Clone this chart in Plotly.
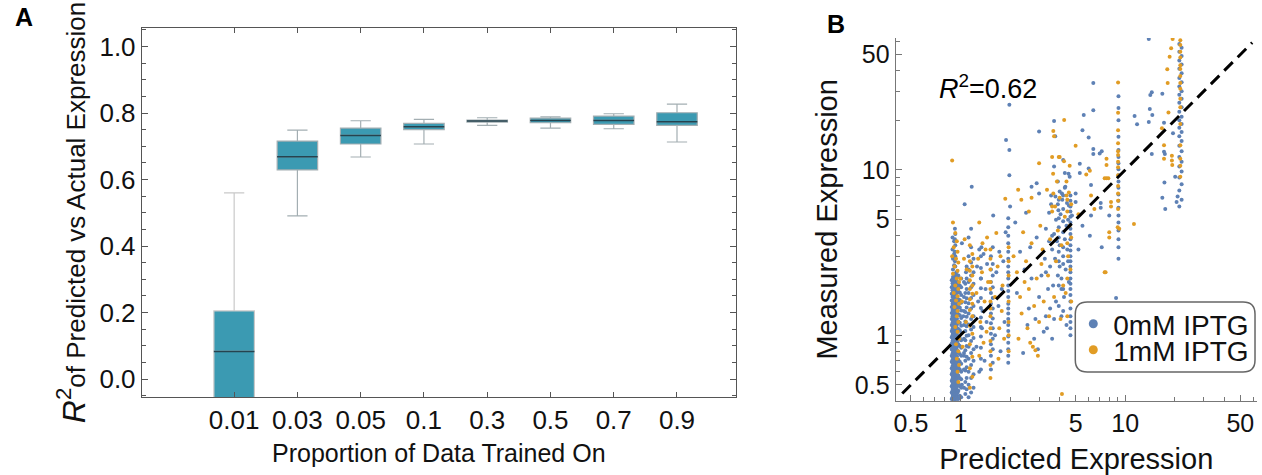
import plotly.graph_objects as go

W, H = 1262, 475
FONT = "Liberation Sans, Arial, sans-serif"

# ---------------- Panel A data ----------------
fractions = ["0.01", "0.03", "0.05", "0.1", "0.3", "0.5", "0.7", "0.9"]
r2_lower = [-0.45, 0.491, 0.668, 0.707, 0.763, 0.755, 0.753, 0.713]
r2_q1 = [-0.20, 0.629, 0.707, 0.750, 0.773, 0.771, 0.766, 0.763]
r2_median = [0.083, 0.669, 0.733, 0.759, 0.776, 0.778, 0.778, 0.774]
r2_q3 = [0.205, 0.716, 0.755, 0.769, 0.779, 0.785, 0.791, 0.801]
r2_upper = [0.560, 0.749, 0.777, 0.781, 0.786, 0.789, 0.798, 0.827]

# ---------------- Panel B data (predicted, measured) ----------------
blue_stacks = [
    (0.885, [0.41, 0.45, 0.49, 0.53, 0.58, 0.63, 0.69, 0.75, 0.82, 0.89, 0.97, 1.06, 1.15, 1.25, 1.36, 1.48, 1.62, 1.78, 1.95, 2.15]),
    (0.895, [0.40, 0.42, 0.44, 0.46, 0.48, 0.50, 0.52, 0.545, 0.57, 0.595, 0.62, 0.65, 0.68, 0.71, 0.74, 0.775, 0.81, 0.845, 0.88, 0.92, 0.96, 1.0, 1.045, 1.09, 1.14, 1.19, 1.24, 1.3, 1.36, 1.42, 1.48, 1.55, 1.62, 1.7, 1.78, 1.87, 1.96, 2.06, 2.17, 3.3, 3.9]),
    (0.90, [0.40, 0.43, 0.47, 0.51, 0.55, 0.60, 0.65, 0.70, 0.76, 0.82, 0.88, 0.95, 1.02, 1.10, 1.19, 1.28, 1.38, 1.49, 1.61, 1.74, 1.88, 2.05, 2.25, 2.5, 2.9]),
    (0.915, [0.42, 0.46, 0.50, 0.54, 0.58, 0.62, 0.67, 0.72, 0.78, 0.84, 0.91, 0.98, 1.05, 1.13, 1.22, 1.31, 1.41, 1.52, 1.64, 1.77, 1.92, 2.1, 2.35, 2.65, 3.1, 3.7]),
    (0.925, [0.41, 0.43, 0.45, 0.47, 0.49, 0.51, 0.535, 0.56, 0.585, 0.61, 0.635, 0.665, 0.695, 0.725, 0.76, 0.79, 0.83, 0.865, 0.9, 0.94, 0.98, 1.02, 1.07, 1.115, 1.165, 1.215, 1.27, 1.33, 1.39, 1.45, 1.52, 1.59, 1.66, 1.74, 1.82, 1.91, 2.0, 2.11, 2.22, 2.35, 2.8, 3.2, 3.8, 4.4]),
    (0.93, [0.41, 0.44, 0.48, 0.52, 0.56, 0.61, 0.66, 0.71, 0.77, 0.83, 0.90, 0.97, 1.04, 1.12, 1.20, 1.29, 1.39, 1.50, 1.62, 1.75, 1.90, 2.08, 2.3, 2.6, 3.0, 3.5, 4.1]),
    (0.945, [0.43, 0.47, 0.51, 0.56, 0.62, 0.68, 0.74, 0.81, 0.88, 0.96, 1.05, 1.15, 1.26, 1.38, 1.52, 1.68, 1.85, 2.05, 2.4]),
    (0.95, [0.40, 0.42, 0.445, 0.465, 0.49, 0.515, 0.54, 0.565, 0.59, 0.62, 0.65, 0.68, 0.71, 0.745, 0.78, 0.815, 0.85, 0.89, 0.93, 0.97, 1.01, 1.06, 1.11, 1.16, 1.21, 1.26, 1.32, 1.38, 1.44, 1.51, 1.58, 1.65, 1.73, 1.81, 1.9, 2.0, 2.12, 2.25]),
    (0.96, [0.45, 0.52, 0.60, 0.70, 0.80, 0.92, 1.05, 1.20, 1.40, 1.60, 1.90]),
    (0.97, [0.41, 0.46, 0.51, 0.57, 0.64, 0.71, 0.79, 0.88, 0.98, 1.09, 1.21, 1.34, 1.49, 1.65, 1.83, 2.03, 2.3]),
    (0.99, [0.43, 0.49, 0.55, 0.62, 0.69, 0.77, 0.86, 0.96, 1.07, 1.19, 1.32, 1.47, 1.63, 1.81, 2.0]),
    (1.01, [0.42, 0.48, 0.54, 0.60, 0.67, 0.75, 0.84, 0.93, 1.03, 1.14, 1.27, 1.41, 1.57, 1.75, 1.95, 2.2]),
    (1.05, [0.48, 0.62, 0.78, 0.95, 1.15, 1.40, 1.70, 2.10]),
    (1.07, [0.44, 0.52, 0.61, 0.70, 0.81, 0.93, 1.06, 1.21, 1.38, 1.58, 1.8, 2.05]),
    (1.09, [0.47, 0.55, 0.64, 0.74, 0.86, 0.99, 1.13, 1.29, 1.47, 1.67, 1.9, 2.2, 2.6]),
    (1.12, [0.42, 0.50, 0.60, 0.72, 0.85, 1.0, 1.16, 1.35, 1.56, 1.8, 2.1, 2.5, 3.0, 3.9]),
    (1.16, [0.45, 0.55, 0.66, 0.78, 0.92, 1.08, 1.25, 1.45, 1.68, 1.95, 2.3, 2.75, 3.4, 4.4]),
    (1.20, [0.48, 0.58, 0.70, 0.82, 0.96, 1.12, 1.30, 1.50, 1.75, 2.05, 2.4, 2.9]),
    (1.33, [0.62, 0.72, 0.84, 0.98, 1.12, 1.28, 1.46, 1.68, 1.92, 2.2, 2.55, 3.0]),
    (1.53, [0.62, 0.75, 0.88, 1.02, 1.18, 1.35, 1.55, 1.80, 2.1, 2.5, 3.0]),
    (1.57, [0.68, 0.82, 0.95, 1.10, 1.26, 1.45, 1.68, 1.95, 2.3, 2.7, 3.4]),
    (1.95, [0.68, 0.75, 0.82, 0.90, 0.98, 1.06, 1.15, 1.25, 1.35, 1.45, 1.55, 1.70, 1.85, 2.0, 2.2, 2.4, 2.6, 2.9, 3.2, 3.6, 4.0, 4.5, 5.1]),
    (3.95, [1.5, 2.0, 2.8, 3.2, 3.9, 5.1, 6.6]),
    (4.2, [1.4, 1.9, 2.7, 3.4, 4.9, 5.8, 7.0]),
    (4.65, [1.0, 1.1, 1.2, 1.3, 1.45, 1.6, 1.75, 1.9, 2.05, 2.2, 2.4, 2.6, 2.8, 3.0, 3.25, 3.5, 3.8, 4.1, 4.4, 4.8, 5.2, 5.6, 6.0, 6.5, 7.0]),
    (9.1, [2.9, 3.4, 3.8, 4.3, 4.8, 5.3, 5.9, 6.5, 7.1, 7.8, 8.5, 9.3, 10.1, 11.0, 12.0, 13.2, 15.9, 20.0, 23.7, 27.9]),
    (21.3, [6.0, 7.5, 9.0, 10.5, 12.0, 14.0, 16.0, 18.0, 20.0, 22.5, 25.5, 28.5, 32.0, 36.0, 41.0, 46.0, 52.0, 58.0]),
    (22.0, [6.6, 8.2, 9.8, 11.2, 13.0, 15.0, 17.0, 19.0, 21.0, 24.0, 27.0, 30.0, 34.0, 38.5, 43.5, 49.0, 55.0]),
]
blue_points = [
    (1.02, 0.50), (1.05, 0.75), (1.04, 1.30), (1.06, 6.2), (1.17, 7.9), (1.08, 2.4), (1.02, 3.6),
    (1.25, 0.85), (1.28, 1.6), (1.30, 3.3), (1.33, 2.2), (1.35, 1.1), (1.38, 3.1), (1.40, 0.70),
    (1.42, 1.9), (1.45, 2.7), (1.30, 0.60), (1.26, 2.6), (1.36, 1.4), (1.44, 1.2), (1.34, 3.4),
    (1.62, 1.0), (1.65, 2.4), (1.70, 1.5), (1.72, 3.2), (1.75, 0.80), (1.78, 1.9), (1.82, 2.8),
    (1.85, 1.2), (1.88, 4.2), (1.58, 5.3), (1.89, 15.2), (1.98, 13.2), (1.98, 9.3), (1.98, 24.8), (2.0, 6.0),
    (2.15, 4.8), (2.3, 3.2), (2.45, 2.5), (2.6, 1.45), (2.7, 2.2), (2.8, 0.95), (2.9, 3.9), (3.0, 1.7),
    (3.1, 2.3), (3.2, 1.05), (2.2, 1.8), (2.55, 1.15), (2.95, 0.82), (3.25, 2.9), (2.4, 0.78), (2.65, 3.4),
    (3.3, 1.3), (2.85, 1.25), (2.7, 7.9), (2.9, 8.3), (3.0, 7.2), (2.5, 5.5),
    (3.4, 1.9), (3.5, 2.6), (3.6, 3.3), (3.7, 4.1), (3.8, 5.0), (3.9, 6.2), (4.0, 7.4), (4.1, 2.2), (4.2, 3.0),
    (4.3, 3.8), (4.4, 4.6), (3.45, 5.5), (3.55, 7.0), (3.65, 2.0), (3.75, 2.9), (3.85, 3.7), (3.95, 4.5),
    (4.05, 5.4), (4.15, 6.6), (4.25, 1.7), (4.35, 2.5), (4.45, 3.3), (4.5, 5.0), (3.5, 1.45), (3.8, 1.6),
    (4.1, 1.3), (4.4, 1.15), (3.35, 1.1), (3.6, 0.95), (3.9, 8.5), (4.3, 9.6), (4.2, 11.5), (3.7, 10.5),
    (3.45, 3.7), (4.0, 2.6), (4.3, 7.8), (3.3, 4.4), (3.55, 6.2), (4.55, 6.1), (4.55, 2.1), (3.3, 2.4),
    (4.53, 9.5), (4.6, 9.1), (4.33, 7.9), (4.13, 7.2), (3.77, 6.9), (4.43, 6.3), (3.93, 5.7), (4.75, 5.3),
    (3.7, 19.8), (3.0, 17.1), (3.76, 16.0), (4.0, 3.5), (3.6, 4.0), (4.2, 4.2), (4.5, 2.8), (3.9, 2.3),
    (4.1, 1.9), (3.7, 1.25),
    (5.0, 7.2), (5.0, 6.4), (5.3, 10.9), (5.3, 9.6), (5.5, 17.4), (5.6, 21.5), (6.0, 15.7), (6.0, 10.2),
    (6.2, 8.1), (6.4, 33.6), (6.4, 23.0), (6.4, 13.4), (6.4, 12.5), (7.2, 13.0), (7.0, 12.6), (7.1, 6.3),
    (7.1, 5.9), (6.1, 4.0), (7.2, 3.4), (8.8, 1.68), (6.2, 5.3), (8.0, 5.3), (5.5, 4.6), (5.2, 3.3),
    (11.4, 21.2), (11.8, 18.9), (13.9, 62.0), (14.2, 28.4), (14.5, 29.5), (14.1, 23.4), (14.6, 21.5),
    (13.9, 19.5), (16.8, 28.9), (14.5, 12.5), (17.2, 19.3), (17.2, 12.9), (17.4, 12.5), (17.3, 8.4),
    (16.8, 6.8), (17.5, 5.8), (20.1, 9.1), (19.5, 16.7), (20.8, 6.9), (20.5, 6.4),
]

orange_stacks = [
    (1.14, [0.48, 0.63, 0.88, 1.14, 1.42, 1.65, 1.9, 2.15, 2.45, 2.8, 3.5]),
    (1.18, [0.56, 0.74, 1.02, 1.3, 1.55, 1.78, 2.0, 2.3, 2.6, 3.1]),
    (1.52, [0.55, 0.66, 0.8, 0.92, 1.1, 1.3, 1.45, 1.6, 1.9, 2.1, 2.5, 2.9, 3.3]),
    (1.96, [0.8, 1.0, 1.2, 1.6, 2.3, 2.8, 3.4]),
    (4.45, [1.3, 2.2, 3.6, 5.6, 6.6]),
    (9.05, [5.8, 6.5, 7.2, 8.0, 9.3, 10.4, 11.2, 12.3, 13.0, 14.5, 17.4, 22.2, 33.8]),
    (21.6, [9.1, 10.6, 11.7, 14.1, 19.0, 24.0, 27.0, 31.0, 33.6, 37.0, 40.9, 43.0, 48.0, 52.0, 57.0, 61.0]),
]
orange_points = [
    (0.90, 4.8), (0.93, 4.15), (0.95, 3.7), (0.91, 3.4), (0.96, 3.2), (0.89, 3.0), (0.94, 2.9), (0.97, 2.75),
    (0.92, 2.6), (0.96, 2.45), (0.90, 2.35), (0.95, 2.2), (0.98, 2.1), (0.93, 2.0), (0.97, 1.9), (0.91, 1.8),
    (0.96, 1.72), (0.94, 1.62), (0.98, 1.55), (0.92, 1.48), (0.96, 1.4), (0.95, 1.3), (0.97, 1.2), (0.93, 1.12),
    (0.96, 1.05), (0.98, 0.95), (0.94, 0.88), (0.97, 0.80), (0.95, 0.72), (0.98, 0.66), (0.96, 0.60), (0.97, 0.52),
    (0.89, 11.4),
    (1.00, 2.2), (1.02, 1.6), (1.05, 2.9), (1.08, 1.2), (1.03, 0.85), (1.06, 3.8), (1.09, 2.5),
    (1.25, 1.8), (1.28, 2.9), (1.30, 4.8), (1.32, 1.2), (1.35, 2.4), (1.38, 0.9), (1.40, 1.6), (1.42, 3.3),
    (1.45, 3.9), (1.47, 2.1), (1.30, 0.75), (1.36, 3.6), (1.44, 1.05),
    (1.62, 1.7), (1.65, 4.15), (1.68, 2.6), (1.72, 1.1), (1.75, 3.0), (1.80, 2.0), (1.84, 0.95), (1.87, 6.7),
    (1.70, 0.72), (1.78, 1.4),
    (2.1, 3.0), (2.2, 2.4), (2.3, 1.7), (2.35, 1.35), (2.5, 2.8), (2.6, 1.9), (2.7, 3.6), (2.8, 1.5), (2.9, 2.2),
    (3.0, 1.2), (3.1, 2.7), (3.2, 1.6), (2.4, 4.2), (2.25, 0.95), (2.75, 0.85), (3.05, 4.6), (2.55, 1.1),
    (2.95, 0.75), (3.15, 3.3), (2.45, 2.1), (2.65, 0.9), (2.85, 0.81), (2.24, 7.6), (2.34, 6.6), (2.7, 6.8),
    (2.6, 5.6), (3.0, 11.0),
    (3.4, 2.3), (3.5, 3.8), (3.6, 5.6), (3.7, 1.7), (3.8, 2.8), (3.9, 4.3), (4.0, 6.8), (4.1, 3.5), (4.2, 2.0),
    (4.3, 5.2), (4.4, 8.5), (4.5, 3.0), (4.6, 4.6), (4.7, 6.2), (4.65, 2.5), (4.7, 3.9), (4.7, 1.6), (3.45, 1.3),
    (3.65, 9.5), (3.95, 12.0), (4.25, 11.3), (3.35, 7.6), (4.05, 1.25), (4.55, 7.3), (3.75, 6.0), (4.35, 1.8),
    (4.6, 10.6), (4.13, 0.44), (3.6, 12.0), (4.0, 12.0), (3.85, 8.5), (3.66, 7.2), (4.4, 7.0), (3.6, 6.0),
    (4.26, 20.1), (3.66, 17.2), (3.7, 16.0), (5.0, 14.0),
    (7.7, 11.7), (7.7, 10.7), (7.5, 8.9), (7.7, 8.9), (7.9, 8.9), (6.1, 9.9), (5.8, 9.4), (6.2, 7.0), (8.2, 6.0),
    (8.2, 6.4), (8.0, 4.2), (8.0, 3.9), (7.5, 2.4), (7.6, 2.4), (9.0, 4.5), (9.2, 4.4), (11.3, 4.7), (5.2, 5.4),
    (6.5, 5.8),
    (16.7, 17.9), (18.3, 22.3), (18.0, 40.7), (18.1, 33.6), (18.6, 48.5), (19.0, 54.5), (19.4, 62.0), (17.2, 14.1),
    (17.2, 11.7), (19.2, 12.2), (19.2, 11.4), (19.3, 10.7),
]

identity_line = [0.443, 59.0]
r2_text = "0.62"
log_ticks = [0.5, 1, 5, 10, 50]
log_minor = [0.4, 0.6, 0.7, 0.8, 0.9, 2, 3, 4, 6, 7, 8, 9, 20, 30, 40, 60]


def expand(stacks, points):
    xs, ys = [], []
    for x, col in stacks:
        for y in col:
            xs.append(x)
            ys.append(y)
    for x, y in points:
        xs.append(x)
        ys.append(y)
    return xs, ys


bx, by = expand(blue_stacks, blue_points)
ox, oy = expand(orange_stacks, orange_points)

BLUE = "#5e81b5"
ORANGE = "#e19c24"
TEAL = "#3b9ab2"

fig = go.Figure()

# Panel A: boxes (0.01 separately with lighter whisker)
for idx, col in [([0], "#c9c9c9"), (list(range(1, 8)), "#a3aeb2")]:
    fig.add_trace(go.Box(
        x=[fractions[i] for i in idx],
        q1=[r2_q1[i] for i in idx], median=[r2_median[i] for i in idx],
        q3=[r2_q3[i] for i in idx], lowerfence=[r2_lower[i] for i in idx],
        upperfence=[r2_upper[i] for i in idx],
        width=0.64, whiskerwidth=0.5, fillcolor=TEAL,
        line=dict(color=col, width=1.2), showlegend=False, hoverinfo="skip",
        xaxis="x", yaxis="y",
    ))
fig.add_trace(go.Scatter(
    x=fractions, y=r2_median, mode="markers", showlegend=False,
    marker=dict(symbol="line-ew", size=29, line=dict(color="#26434f", width=1.5)),
    xaxis="x", yaxis="y", hoverinfo="skip",
))

# Panel B scatter
fig.add_trace(go.Scatter(x=bx, y=by, mode="markers", marker=dict(color=BLUE, size=4),
                         showlegend=False, xaxis="x2", yaxis="y2", name="0mM IPTG"))
fig.add_trace(go.Scatter(x=ox, y=oy, mode="markers", marker=dict(color=ORANGE, size=4),
                         showlegend=False, xaxis="x2", yaxis="y2", name="1mM IPTG"))
fig.add_trace(go.Scatter(x=identity_line, y=identity_line, mode="lines",
                         line=dict(color="black", width=3, dash="12px,7px"),
                         showlegend=False, xaxis="x2", yaxis="y2"))
# legend entries
fig.add_trace(go.Scatter(x=[None], y=[None], mode="markers", name="0mM IPTG",
                         marker=dict(color=BLUE, size=9), xaxis="x2", yaxis="y2", legend="legend"))
fig.add_trace(go.Scatter(x=[None], y=[None], mode="markers", name="1mM IPTG",
                         marker=dict(color=ORANGE, size=9), xaxis="x2", yaxis="y2", legend="legend2"))


def px(x):
    return x / W


def py(y):
    return 1 - y / H


axA = dict(showline=True, linecolor="#555", linewidth=1, mirror="allticks", ticks="inside",
           tickcolor="#555", showgrid=False, zeroline=False,
           tickfont=dict(family=FONT, size=26, color="#111"))

fig.update_layout(
    width=W, height=H, margin=dict(l=0, r=0, t=0, b=0),
    paper_bgcolor="white", plot_bgcolor="white", boxmode="overlay",
    font=dict(family=FONT, color="#111"),
    xaxis=dict(**axA, type="category", range=[-1.46, 7.93], domain=[px(140), px(735)], anchor="y",
               ticklen=5,
               title=dict(text="Proportion of Data Trained On", font=dict(size=25), standoff=10)),
    yaxis=dict(**axA, range=[-0.054, 1.056], domain=[py(397), py(28)], anchor="x",
               dtick=0.2, tick0=0, tickformat=".1f", ticklen=6,
               minor=dict(dtick=0.05, tick0=0, ticks="inside", ticklen=4, tickcolor="#555"),
               title=dict(text="<span style='font-size:32px'><i>R</i><sup>2</sup></span>of Predicted vs Actual Expression",
                          font=dict(size=26), standoff=6)),
    xaxis2=dict(type="log", range=[-0.394, 1.8], domain=[px(895), px(1257)], anchor="y2",
                showline=True, linecolor="#777", linewidth=1, ticks="inside", ticklen=6, tickcolor="#777",
                tickvals=log_ticks, ticktext=[str(v) for v in log_ticks],
                minor=dict(tickvals=log_minor, ticks="inside", ticklen=4, tickcolor="#777"),
                showgrid=False, zeroline=False, tickfont=dict(size=25, color="#111"),
                title=dict(text="Predicted Expression", font=dict(size=29), standoff=12)),
    yaxis2=dict(type="log", range=[-0.397, 1.799], domain=[py(400.7), py(38)], anchor="x2",
                showline=True, linecolor="#777", linewidth=1, ticks="inside", ticklen=6, tickcolor="#777",
                tickvals=log_ticks, ticktext=[str(v) for v in log_ticks],
                minor=dict(tickvals=log_minor, ticks="inside", ticklen=4, tickcolor="#777"),
                showgrid=False, zeroline=False, tickfont=dict(size=25, color="#111"),
                title=dict(text="Measured Expression", font=dict(size=29), standoff=8)),
    legend=dict(x=px(1073), y=py(324), xanchor="left", yanchor="middle", bgcolor="rgba(0,0,0,0)",
                font=dict(size=28, family=FONT, color="#111"), borderwidth=0),
    legend2=dict(x=px(1073), y=py(350), xanchor="left", yanchor="middle", bgcolor="rgba(0,0,0,0)",
                 font=dict(size=28, family=FONT, color="#111"), borderwidth=0),
    annotations=[
        dict(text="<b>A</b>", x=px(11), y=py(1), xref="paper", yref="paper", xanchor="left", yanchor="top",
             showarrow=False, font=dict(size=25, family=FONT, color="black")),
        dict(text="<b>B</b>", x=px(824), y=py(8), xref="paper", yref="paper", xanchor="left", yanchor="top",
             showarrow=False, font=dict(size=25, family=FONT, color="black")),
        dict(text="<i>R</i><sup>2</sup>=" + r2_text, x=px(988), y=py(87), xref="paper", yref="paper",
             xanchor="center", yanchor="middle", showarrow=False, font=dict(size=27, family=FONT, color="black")),
    ],
)

# rounded legend frame
x0, x1, y0, y1 = px(1075), px(1255), py(372), py(302)
rx, ry = 12 / W, 12 / H
path = (f"M {x0+rx},{y1} L {x1-rx},{y1} Q {x1},{y1} {x1},{y1-ry} L {x1},{y0+ry} Q {x1},{y0} {x1-rx},{y0} "
        f"L {x0+rx},{y0} Q {x0},{y0} {x0},{y0+ry} L {x0},{y1-ry} Q {x0},{y1} {x0+rx},{y1} Z")
fig.add_shape(type="path", path=path, xref="paper", yref="paper", line=dict(color="#666", width=1.5),
              fillcolor="rgba(255,255,255,0.9)", layer="above")

fig.write_html("out.html")
